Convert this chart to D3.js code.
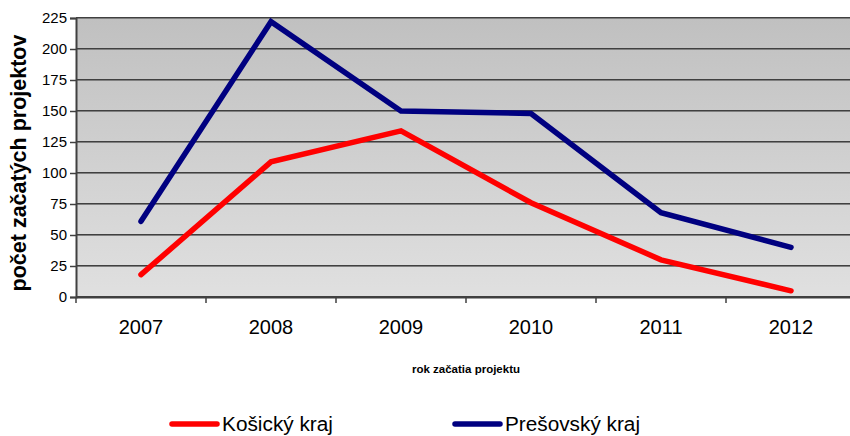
<!DOCTYPE html>
<html>
<head>
<meta charset="utf-8">
<script src="https://cdn.jsdelivr.net/npm/d3@7"></script>
<style>
html,body{margin:0;padding:0;background:#fff;}
svg{display:block;font-family:"Liberation Sans",Arial,sans-serif;}
</style>
</head>
<body>
<svg id="chart" width="850" height="436"></svg>
<script>
const years = ["2007","2008","2009","2010","2011","2012"];
const kosice = [18, 109, 134, 76, 30, 5];
const presov = [61, 222, 150, 148, 68, 40];
const yTicks = [0,25,50,75,100,125,150,175,200,225];
const seriesNames = ["Košický kraj","Prešovský kraj"];
const seriesColors = ["#ff0000","#000080"];

(function(){
const svg = d3.select("#chart");
const mLeft = 76, mRight = 856, mTop = 18, mBottom = 297;

const x = d3.scaleBand().domain(years).range([mLeft, mRight]);
const y = d3.scaleLinear().domain([0,225]).range([mBottom, mTop]);

const defs = svg.append("defs");
const grad = defs.append("linearGradient").attr("id","bg").attr("x1",0).attr("y1",0).attr("x2",0).attr("y2",1);
grad.append("stop").attr("offset","0%").attr("stop-color","#c0c0c0");
grad.append("stop").attr("offset","100%").attr("stop-color","#e0e0e0");

svg.append("rect").attr("x",mLeft).attr("y",mTop).attr("width",mRight-mLeft).attr("height",mBottom-mTop).attr("fill","url(#bg)");

// gridlines
const grid = svg.append("g");
yTicks.forEach(t => {
  const yy = Math.round(y(t));
  grid.append("line").attr("x1",mLeft).attr("x2",mRight).attr("y1",yy-0.5).attr("y2",yy-0.5).attr("stroke","#404040").attr("stroke-width",1);
  grid.append("line").attr("x1",mLeft).attr("x2",mRight).attr("y1",yy+0.5).attr("y2",yy+0.5).attr("stroke","#808080").attr("stroke-width",1);
});

// y axis
const yAxis = d3.axisLeft(y).tickValues(yTicks).tickSize(6).tickPadding(3);
const gy = svg.append("g").attr("transform",`translate(${mLeft},0)`).call(yAxis);
gy.select(".domain").attr("stroke","#404040").attr("stroke-width",2);
gy.selectAll(".tick line").attr("stroke","#404040").attr("stroke-width",1.5);
gy.selectAll(".tick text").attr("font-size","15px").attr("fill","#000").attr("font-family","Liberation Sans, Arial, sans-serif");

// x axis
const xAxis = d3.axisBottom(x).tickSize(0).tickPadding(23);
const gx = svg.append("g").attr("transform",`translate(0,${mBottom})`).call(xAxis);
gx.select(".domain").attr("stroke","#404040").attr("stroke-width",2);
gx.selectAll(".tick text").attr("font-size","20px").attr("fill","#000").attr("font-family","Liberation Sans, Arial, sans-serif");
// boundary ticks
const bounds = years.map(d => x(d)).concat([x(years[years.length-1]) + x.bandwidth()]);
svg.append("g").selectAll("line").data(bounds).join("line")
  .attr("x1",d=>d).attr("x2",d=>d).attr("y1",mBottom).attr("y2",mBottom+6)
  .attr("stroke","#404040").attr("stroke-width",1.5);

// lines
const line = d3.line().x((d,i)=>x(years[i]) + x.bandwidth()/2).y(d=>y(d));
[kosice, presov].forEach((s,i) => {
  svg.append("path").datum(s).attr("d",line).attr("fill","none")
    .attr("stroke",seriesColors[i]).attr("stroke-width",5.5)
    .attr("stroke-linecap","round").attr("stroke-linejoin","miter");
});

// axis titles
svg.append("text").attr("transform","translate(26,163) rotate(-90)")
  .attr("text-anchor","middle").attr("font-size","21.5px").attr("font-weight","bold")
  .text("počet začatých projektov");
svg.append("text").attr("x",466).attr("y",373).attr("text-anchor","middle")
  .attr("font-size","11.5px").attr("font-weight","bold")
  .text("rok začatia projektu");

// legend
const legendX = [172, 455];
const legendW = [111, 135];
seriesNames.forEach((n,i) => {
  svg.append("line").attr("x1",legendX[i]).attr("x2",legendX[i]+45).attr("y1",424).attr("y2",424)
    .attr("stroke",seriesColors[i]).attr("stroke-width",5.5).attr("stroke-linecap","round");
  svg.append("text").attr("x",legendX[i]+50).attr("y",431).attr("font-size","20px")
    .attr("textLength",legendW[i]).attr("lengthAdjust","spacingAndGlyphs").text(n);
});
})();
</script>
</body>
</html>
